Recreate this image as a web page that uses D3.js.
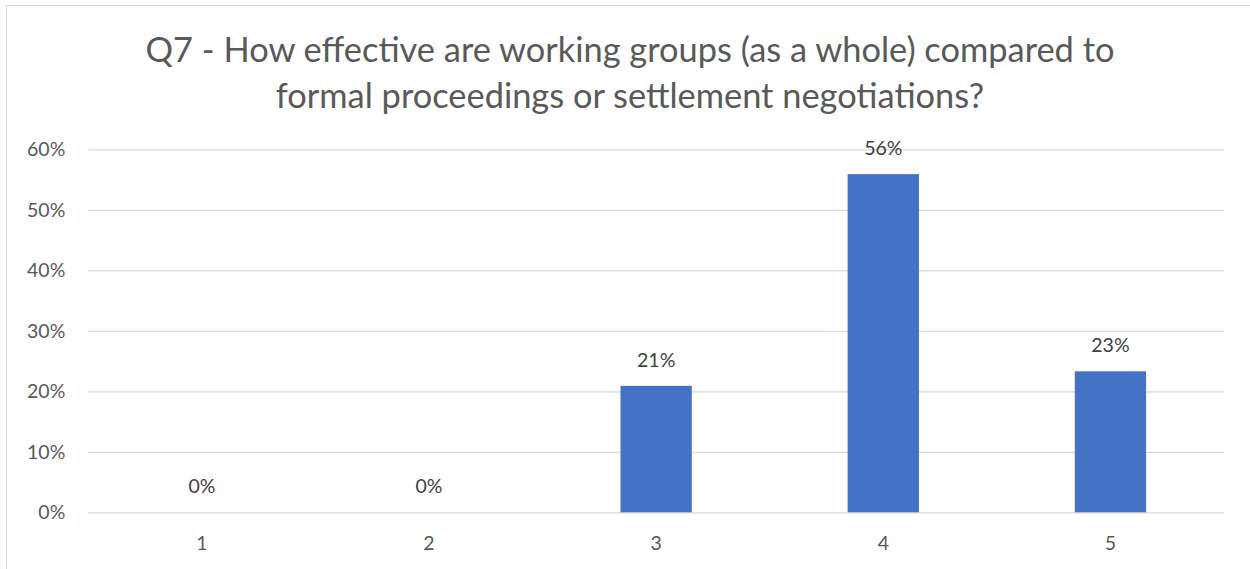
<!DOCTYPE html>
<html><head><meta charset="utf-8">
<script src="https://cdn.jsdelivr.net/npm/d3@7"></script>
<style>body{margin:0;background:#fff;} svg{display:block;}</style>
</head><body>
<script>
const categories = ["1","2","3","4","5"];
const values = [0, 0, 0.209, 0.559, 0.233];
const labels = ["0%","0%","21%","56%","23%"];
const yTicks = [0,0.1,0.2,0.3,0.4,0.5,0.6];
const titleLines = ["Q7 - How effective are working groups (as a whole) compared to","formal proceedings or settlement negotiations?"];

(function(){
const W=1250,H=569;
const svg=d3.select("body").append("svg").attr("width",W).attr("height",H);
svg.append("rect").attr("x",6.5).attr("y",5.5).attr("width",1260).attr("height",600).attr("fill","#fff").attr("stroke","#d9d9d9");
const font="Lato, 'Open Sans', sans-serif";
const pLeft=88.3,pRight=1224,pTop=149.3,pBottom=512.3;
const x=d3.scaleBand().domain(categories).range([pLeft,pRight]).paddingInner(0.686).paddingOuter(0.343);
const y=d3.scaleLinear().domain([0,0.6]).range([pBottom,pTop]);

svg.append("g").selectAll("text").data(titleLines).join("text")
 .attr("x",630).attr("y",(d,i)=>62+i*46).attr("text-anchor","middle")
 .attr("font-family",font).attr("font-size",34.4).attr("fill","#595959").text(d=>d);

const yAxis=d3.axisLeft(y).tickValues(yTicks).tickFormat(d3.format(".0%")).tickSize(-(pRight-pLeft)).tickPadding(23);
const gy=svg.append("g").attr("transform",`translate(${pLeft},0)`).call(yAxis);
gy.select(".domain").remove();
gy.selectAll(".tick line").attr("stroke","#d9d9d9").attr("stroke-width",1.3);
gy.selectAll(".tick text").attr("font-family",font).attr("font-size",19.5).attr("fill","#595959");

const xAxis=d3.axisBottom(x).tickSize(0).tickPadding(24);
const gx=svg.append("g").attr("transform",`translate(0,${pBottom})`).call(xAxis);
gx.select(".domain").remove();
gx.selectAll(".tick text").attr("font-family",font).attr("font-size",19.5).attr("fill","#595959");

svg.append("g").selectAll("rect").data(values).join("rect")
 .attr("x",(d,i)=>x(categories[i])).attr("width",x.bandwidth())
 .attr("y",d=>y(d)).attr("height",d=>pBottom-y(d)).attr("fill","#4472c4");

svg.append("g").selectAll("text").data(values).join("text")
 .attr("x",(d,i)=>x(categories[i])+x.bandwidth()/2).attr("y",d=>y(d)-19)
 .attr("text-anchor","middle").attr("font-family",font).attr("font-size",19.5).attr("fill","#404040")
 .text((d,i)=>labels[i]);
})();
</script>
</body></html>
